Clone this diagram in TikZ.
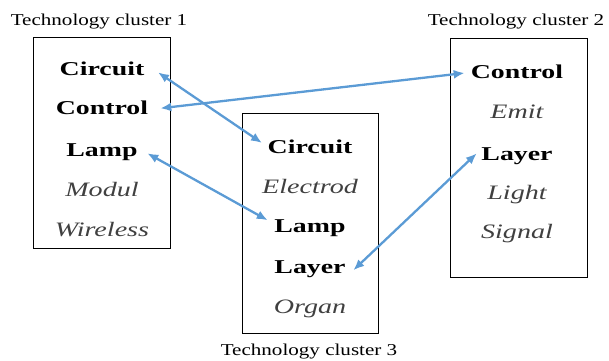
\documentclass[tikz,border=0pt]{standalone}
\usepackage{graphicx}
\usepackage{fontspec}
\setmainfont{Liberation Serif}
\usetikzlibrary{arrows.meta,calc}
\definecolor{arrowblue}{HTML}{5B9BD5}
\definecolor{itgray}{HTML}{404040}
\newcommand{\bw}[1]{\scalebox{1.42}[1]{\fontsize{19.6}{22}\selectfont\bfseries #1}}
\newcommand{\iw}[1]{\scalebox{1.37}[1]{\fontsize{20.5}{22}\selectfont\itshape\color{itgray}#1}}
\newcommand{\tw}[1]{\scalebox{1.27}[1]{\fontsize{16.6}{18}\selectfont #1}}
\begin{document}
\begin{tikzpicture}[x=1pt,y=-1pt,
  frame/.style={draw=black,line width=1pt,rectangle,inner sep=0pt},
  word/.style={anchor=base,inner sep=0pt},
  title/.style={anchor=base,inner sep=0pt},
  link/.style={draw=arrowblue,line width=2.3pt,{Latex[length=11pt,width=9pt]}-{Latex[length=11pt,width=9pt]}}]
\useasboundingbox (0,0) rectangle (609,360);
% frames
\node[frame,minimum width=137pt,minimum height=211pt] (box1) at (101.5,142.5) {};
\node[frame,minimum width=136pt,minimum height=220pt] (box3) at (310,223) {};
\node[frame,minimum width=137pt,minimum height=239pt] (box2) at (518.5,157.5) {};
% titles
\node[title] (t1) at (99,25) {\tw{Technology cluster 1}};
\node[title] (t2) at (516,25) {\tw{Technology cluster 2}};
\node[title] (t3) at (309,355) {\tw{Technology cluster 3}};
% cluster 1 words
\node[word] (c1circ) at (102,75) {\bw{Circuit}};
\node[word] (c1ctrl) at (102,114) {\bw{Control}};
\node[word] (c1lamp) at (102,156) {\bw{Lamp}};
\node[word] (c1mod) at (102,196) {\iw{Modul}};
\node[word] (c1wire) at (102,236) {\iw{Wireless}};
% cluster 3 words
\node[word] (c3circ) at (310,153) {\bw{Circuit}};
\node[word] (c3elec) at (310,193) {\iw{Electrod}};
\node[word] (c3lamp) at (310,232) {\bw{Lamp}};
\node[word] (c3layer) at (310,273) {\bw{Layer}};
\node[word] (c3org) at (310,313) {\iw{Organ}};
% cluster 2 words
\node[word] (c2ctrl) at (517,78) {\bw{Control}};
\node[word] (c2emit) at (517,118) {\iw{Emit}};
\node[word] (c2layer) at (517,160) {\bw{Layer}};
\node[word] (c2light) at (517,199) {\iw{Light}};
\node[word] (c2sig) at (517,238) {\iw{Signal}};
% links
\draw[link] ($(c1circ.east)+(13.5,4)$) -- ($(c3circ.west)+(-5.5,-3.3)$);
\draw[link] ($(c1ctrl.east)+(12,1)$) -- ($(c2ctrl.west)+(-6,1.7)$);
\draw[link] ($(c1lamp.east)+(9.5,1.6)$) -- ($(c3lamp.west)+(-6.5,-7.4)$);
\draw[link] ($(c3layer.east)+(7.5,1.6)$) -- ($(c2layer.west)+(-4.5,-2.4)$);
\end{tikzpicture}
\end{document}
